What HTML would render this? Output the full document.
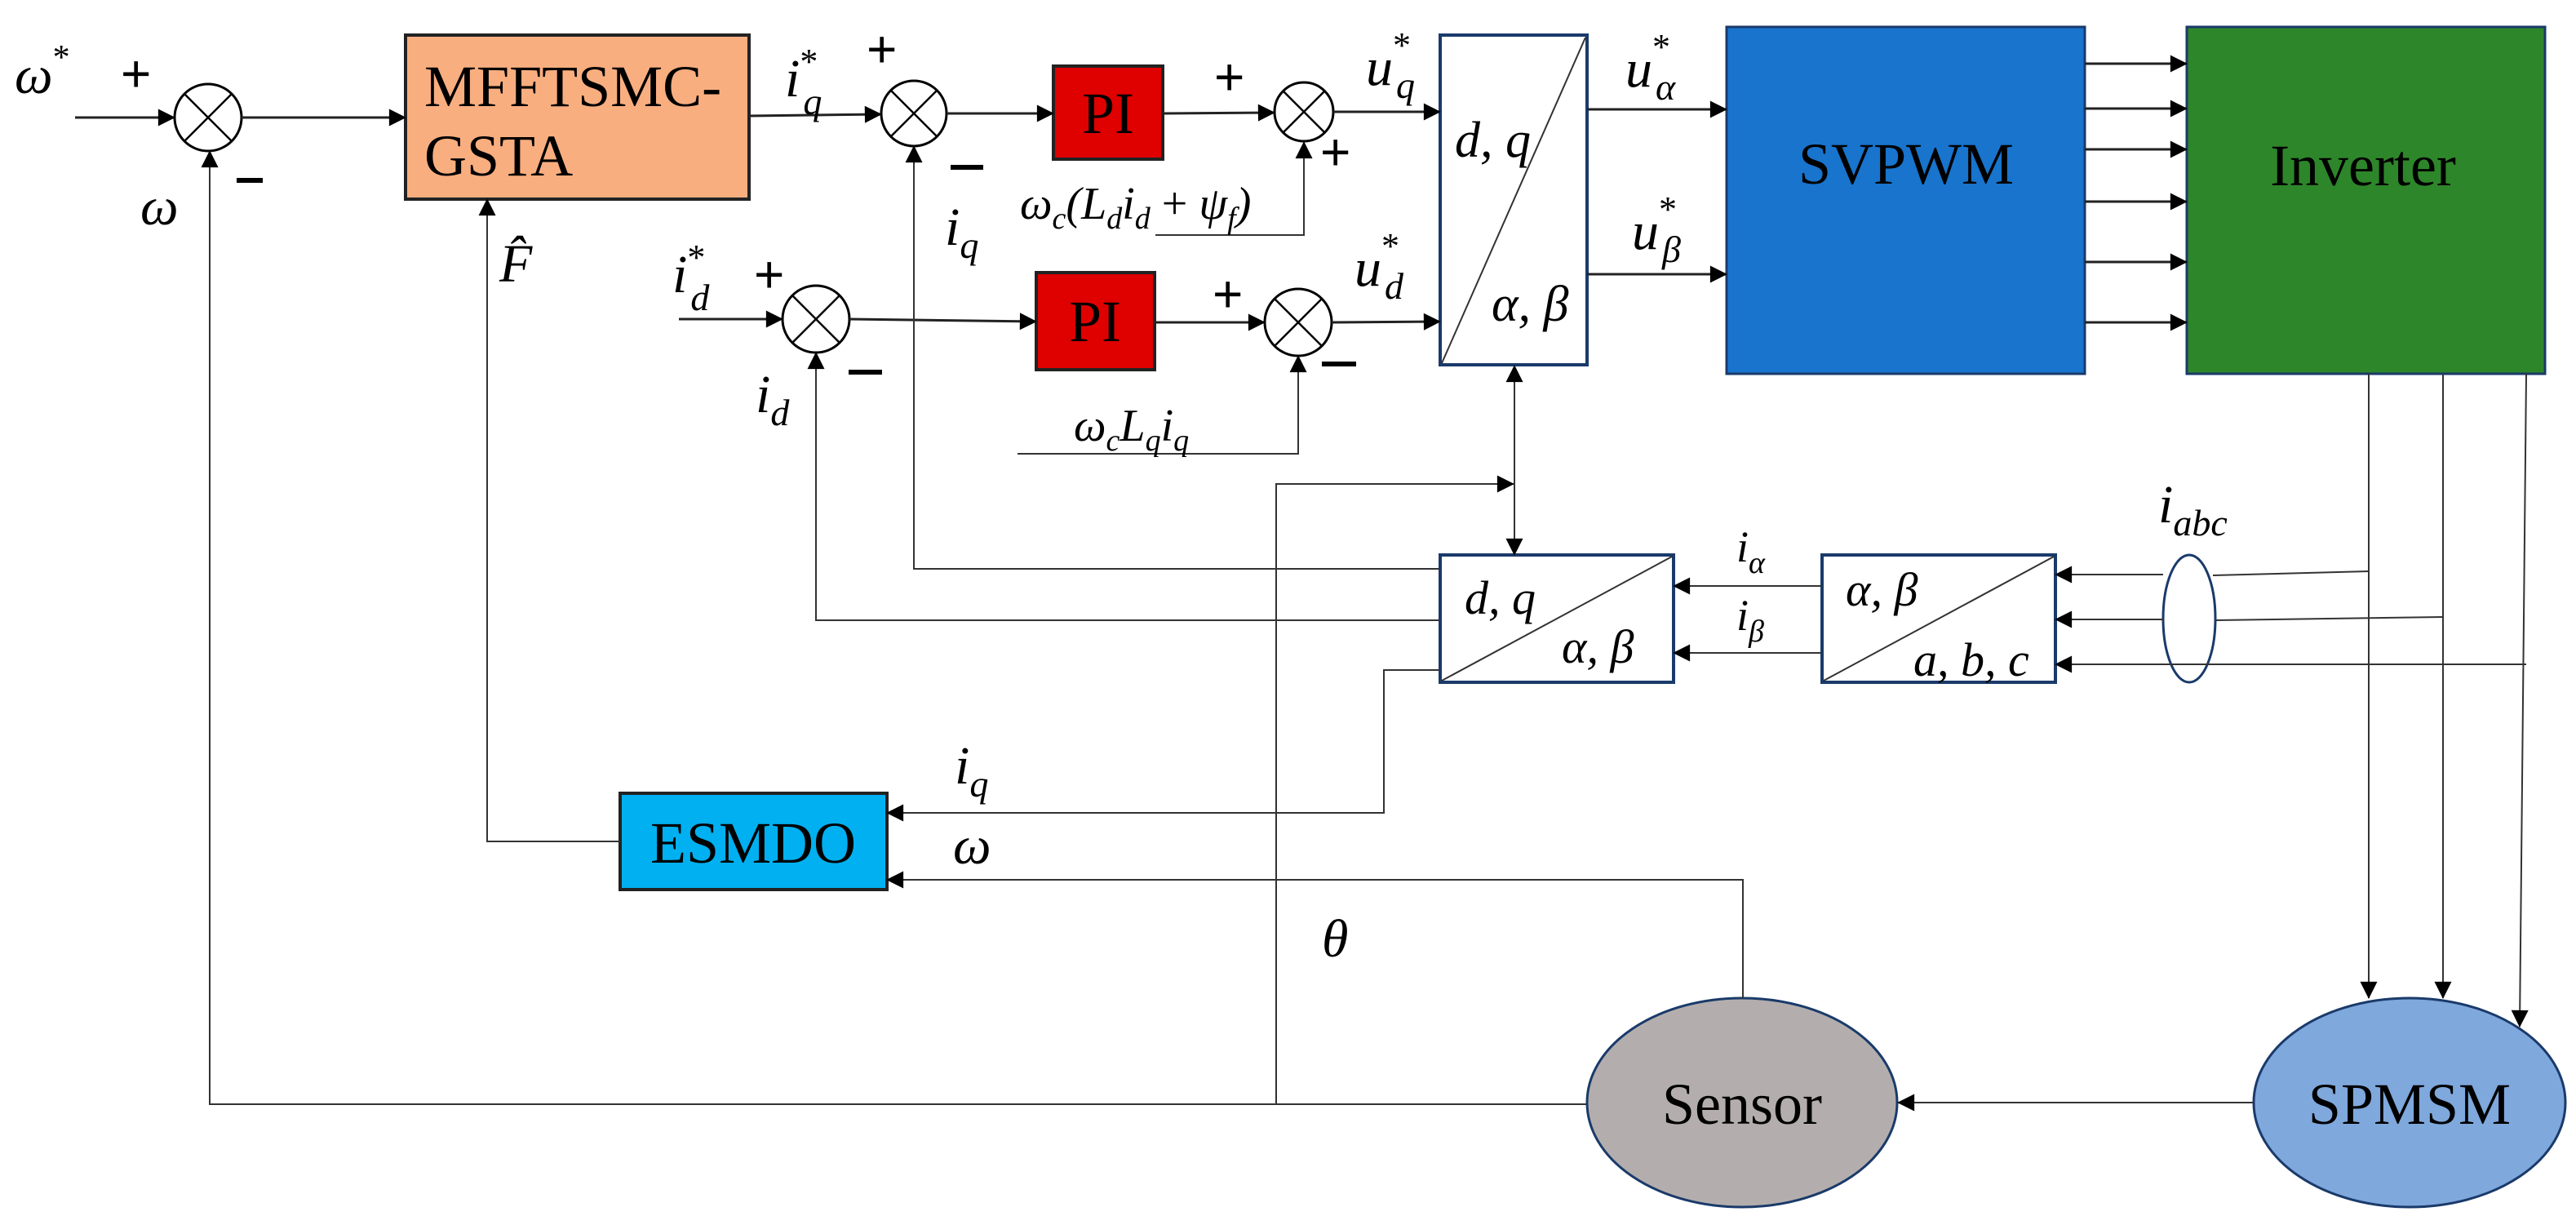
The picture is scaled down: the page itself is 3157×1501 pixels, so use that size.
<!DOCTYPE html>
<html><head><meta charset="utf-8"><style>html,body{margin:0;padding:0;background:#fff}svg{display:block}</style></head><body>
<svg width="3157" height="1501" viewBox="0 0 3157 1501" xmlns="http://www.w3.org/2000/svg">
<defs>
<marker id="a" markerWidth="10" markerHeight="10" refX="9" refY="5" orient="auto" markerUnits="userSpaceOnUse" viewBox="0 0 10 10" style="overflow:visible">
<path d="M0,0 L10,5 L0,10 z" fill="#000" transform="scale(2.1) translate(-5.3,-2.6)"/>
</marker>
</defs>
<style>
.l{stroke:#222;stroke-width:3;fill:none}
.t{stroke:#333;stroke-width:2;fill:none}
.m{font-family:"Liberation Serif",serif;font-style:italic;fill:#000}
.b{font-family:"Liberation Serif",serif;fill:#000;font-size:72px}
.s{font-family:"Liberation Sans",sans-serif;fill:#000;font-size:64px}
</style>

<rect x="497" y="43" width="421" height="201" fill="#F9AE80" stroke="#222" stroke-width="4"/>
<text class="b" x="520" y="130">MFFTSMC-</text>
<text class="b" x="520" y="215">GSTA</text>

<rect x="1291" y="81" width="134" height="114" fill="#DF0000" stroke="#222" stroke-width="4"/>
<text class="b" x="1358" y="163" text-anchor="middle">PI</text>
<rect x="1270" y="334" width="145" height="119" fill="#DF0000" stroke="#222" stroke-width="4"/>
<text class="b" x="1342" y="418" text-anchor="middle">PI</text>

<rect x="1765" y="43" width="180" height="404" fill="#fff" stroke="#1a3a6a" stroke-width="4"/>
<line x1="1767" y1="445" x2="1943" y2="46" class="t"/>
<text class="m" x="1783" y="192" font-size="62">d, q</text>
<text class="m" x="1828" y="393" font-size="62">α, β</text>

<rect x="2116" y="33" width="439" height="425" fill="#1874CD" stroke="#1a3a6a" stroke-width="3"/>
<text class="b" x="2336" y="225" text-anchor="middle">SVPWM</text>
<rect x="2680" y="33" width="439" height="425" fill="#2E862A" stroke="#1a3a6a" stroke-width="3"/>
<text class="b" x="2896" y="227" text-anchor="middle">Inverter</text>

<rect x="1765" y="680" width="286" height="156" fill="#fff" stroke="#1a3a6a" stroke-width="4"/>
<line x1="1767" y1="834" x2="2049" y2="682" class="t"/>
<text class="m" x="1795" y="752" font-size="58">d, q</text>
<text class="m" x="1914" y="812" font-size="58">α, β</text>

<rect x="2233" y="680" width="286" height="156" fill="#fff" stroke="#1a3a6a" stroke-width="4"/>
<line x1="2235" y1="834" x2="2517" y2="682" class="t"/>
<text class="m" x="2262" y="742" font-size="58">α, β</text>
<text class="m" x="2345" y="828" font-size="58">a, b, c</text>

<ellipse cx="2683" cy="758" rx="32" ry="78" fill="#fff" stroke="#1a3a6a" stroke-width="3"/>

<rect x="760" y="972" width="327" height="118" fill="#00B0F0" stroke="#222" stroke-width="4"/>
<text class="b" x="923" y="1057" text-anchor="middle">ESMDO</text>

<ellipse cx="2135" cy="1351" rx="190" ry="128" fill="#B3AEAD" stroke="#1a3a6a" stroke-width="3"/>
<text class="b" x="2135" y="1377" text-anchor="middle">Sensor</text>
<ellipse cx="2953" cy="1351" rx="191" ry="128" fill="#7FA8DC" stroke="#1a3a6a" stroke-width="3"/>
<text class="b" x="2953" y="1377" text-anchor="middle">SPMSM</text>

<g stroke="#000" stroke-width="3" fill="#fff">
<circle cx="255" cy="144" r="41"/>
<circle cx="1120" cy="139" r="40"/>
<circle cx="1598" cy="137" r="36"/>
<circle cx="1000" cy="391" r="41"/>
<circle cx="1591" cy="395" r="41"/>
</g>
<g stroke="#000" stroke-width="2.5">
<path d="M226,115 L284,173 M284,115 L226,173"/>
<path d="M1092,111 L1148,167 M1148,111 L1092,167"/>
<path d="M1573,112 L1623,162 M1623,112 L1573,162"/>
<path d="M971,362 L1029,420 M1029,362 L971,420"/>
<path d="M1562,366 L1620,424 M1620,366 L1562,424"/>
</g>

<g class="l">
<line x1="92" y1="144" x2="214" y2="144" marker-end="url(#a)"/>
<line x1="296" y1="144" x2="497" y2="144" marker-end="url(#a)"/>
<line x1="918" y1="142" x2="1080" y2="140" marker-end="url(#a)"/>
<line x1="1160" y1="139" x2="1291" y2="139" marker-end="url(#a)"/>
<line x1="1425" y1="139" x2="1562" y2="138" marker-end="url(#a)"/>
<line x1="1634" y1="137" x2="1765" y2="137" marker-end="url(#a)"/>
<line x1="832" y1="391" x2="959" y2="391" marker-end="url(#a)"/>
<line x1="1041" y1="391" x2="1270" y2="394" marker-end="url(#a)"/>
<line x1="1415" y1="395" x2="1550" y2="395" marker-end="url(#a)"/>
<line x1="1632" y1="395" x2="1765" y2="394" marker-end="url(#a)"/>
<line x1="1945" y1="134" x2="2116" y2="134" marker-end="url(#a)"/>
<line x1="1945" y1="336" x2="2116" y2="336" marker-end="url(#a)"/>
<line x1="2555" y1="78" x2="2680" y2="78" marker-end="url(#a)"/>
<line x1="2555" y1="133" x2="2680" y2="133" marker-end="url(#a)"/>
<line x1="2555" y1="183" x2="2680" y2="183" marker-end="url(#a)"/>
<line x1="2555" y1="247" x2="2680" y2="247" marker-end="url(#a)"/>
<line x1="2555" y1="321" x2="2680" y2="321" marker-end="url(#a)"/>
<line x1="2555" y1="395" x2="2680" y2="395" marker-end="url(#a)"/>
</g>
<g class="t">
<polyline points="1416,288 1598,288 1598,174" marker-end="url(#a)"/>
<polyline points="1247,556 1591,556 1591,436" marker-end="url(#a)"/>
<polyline points="1765,697 1120,697 1120,179" marker-end="url(#a)"/>
<polyline points="1765,760 1000,760 1000,432" marker-end="url(#a)"/>
<polyline points="1765,821 1696,821 1696,996 1087,996" marker-end="url(#a)"/>
<polyline points="2136,1223 2136,1078 1087,1078" marker-end="url(#a)"/>
<polyline points="760,1031 597,1031 597,244" marker-end="url(#a)"/>
<polyline points="1944,1353 257,1353 257,185" marker-end="url(#a)"/>
<polyline points="1564,1353 1564,593 1855,593" marker-end="url(#a)"/>
<line x1="1856" y1="560" x2="1856" y2="448" marker-end="url(#a)"/>
<line x1="1856" y1="560" x2="1856" y2="680" marker-end="url(#a)"/>
<line x1="2233" y1="718" x2="2051" y2="718" marker-end="url(#a)"/>
<line x1="2233" y1="800" x2="2051" y2="800" marker-end="url(#a)"/>
<line x1="2651" y1="704" x2="2519" y2="704" marker-end="url(#a)"/>
<line x1="2651" y1="759" x2="2519" y2="759" marker-end="url(#a)"/>
<line x1="3096" y1="814" x2="2519" y2="814" marker-end="url(#a)"/>
<line x1="2712" y1="705" x2="2903" y2="700"/>
<line x1="2715" y1="760" x2="2994" y2="756"/>
<line x1="2903" y1="458" x2="2903" y2="1223" marker-end="url(#a)"/>
<line x1="2994" y1="458" x2="2994" y2="1223" marker-end="url(#a)"/>
<line x1="3096" y1="458" x2="3088" y2="1258" marker-end="url(#a)"/>
<line x1="2762" y1="1351" x2="2326" y2="1351" marker-end="url(#a)"/>
</g>

<g class="s">
<text x="148" y="112">+</text>
<text x="1062" y="82">+</text>
<text x="1488" y="116">+</text>
<text x="1618" y="208">+</text>
<text x="924" y="358">+</text>
<text x="1486" y="382">+</text>
</g>
<g stroke="#000" stroke-width="6">
<line x1="290" y1="221" x2="322" y2="221"/>
<line x1="1165" y1="205" x2="1205" y2="205"/>
<line x1="1040" y1="456" x2="1081" y2="456"/>
<line x1="1620" y1="446" x2="1662" y2="446"/>
</g>

<g class="m" font-size="66">
<text x="18" y="114">ω<tspan font-size="42" dy="-30" font-style="normal">*</tspan></text>
<text x="172" y="275">ω</text>
<text x="612" y="345">F̂</text>
<text x="962" y="118">i<tspan font-size="44" dy="-28" font-style="normal">*</tspan><tspan font-size="46" dx="-18" dy="50">q</tspan></text>
<text x="1158" y="300">i<tspan font-size="46" dy="16">q</tspan></text>
<text x="824" y="358">i<tspan font-size="44" dy="-28" font-style="normal">*</tspan><tspan font-size="46" dx="-18" dy="50">d</tspan></text>
<text x="926" y="505">i<tspan font-size="46" dy="16">d</tspan></text>
<text x="1674" y="104">u<tspan font-size="44" dy="-34" font-style="normal">*</tspan><tspan font-size="46" dx="-18" dy="50">q</tspan></text>
<text x="1660" y="350">u<tspan font-size="44" dy="-34" font-style="normal">*</tspan><tspan font-size="46" dx="-18" dy="50">d</tspan></text>
<text x="1992" y="106">u<tspan font-size="44" dy="-34" font-style="normal">*</tspan><tspan font-size="46" dx="-18" dy="50">α</tspan></text>
<text x="2000" y="305">u<tspan font-size="44" dy="-34" font-style="normal">*</tspan><tspan font-size="46" dx="-18" dy="50">β</tspan></text>
<text x="2645" y="640">i<tspan font-size="46" dy="16">abc</tspan></text>
<text x="2128" y="688" font-size="54">i<tspan font-size="38" dy="14">α</tspan></text>
<text x="2128" y="772" font-size="54">i<tspan font-size="38" dy="14">β</tspan></text>
<text x="1170" y="960">i<tspan font-size="46" dy="16">q</tspan></text>
<text x="1168" y="1058">ω</text>
<text x="1620" y="1172">θ</text>
</g>
<g class="m" font-size="56">
<text x="1250" y="268">ω<tspan font-size="38" dy="12">c</tspan><tspan dy="-12">(L</tspan><tspan font-size="38" dy="12">d</tspan><tspan dy="-12">i</tspan><tspan font-size="38" dy="12">d</tspan><tspan dy="-12" font-style="normal"> + </tspan><tspan>ψ</tspan><tspan font-size="38" dy="12">f</tspan><tspan dy="-12">)</tspan></text>
<text x="1316" y="540">ω<tspan font-size="38" dy="12">c</tspan><tspan dy="-12">L</tspan><tspan font-size="38" dy="12">q</tspan><tspan dy="-12">i</tspan><tspan font-size="38" dy="12">q</tspan></text>
</g>
</svg>
</body></html>
